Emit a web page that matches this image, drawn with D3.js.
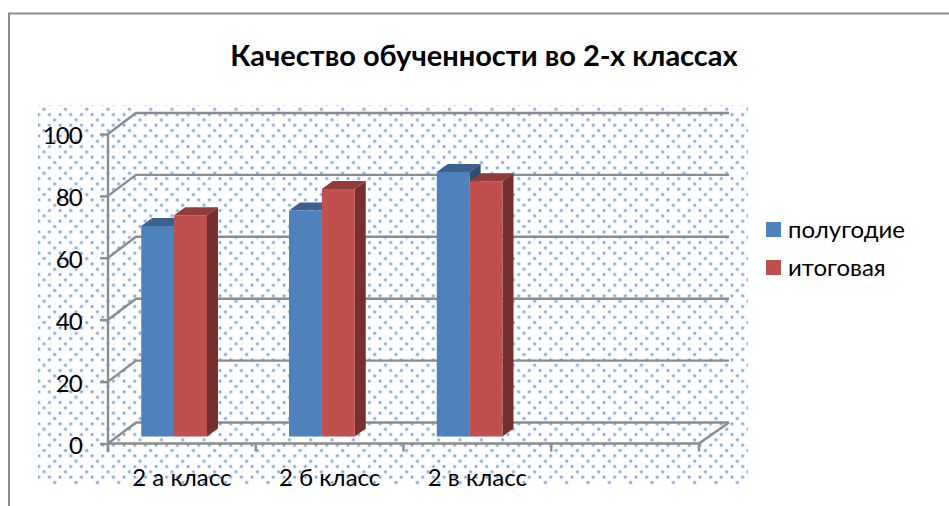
<!DOCTYPE html>
<html>
<head>
<meta charset="utf-8">
<script src="https://cdn.jsdelivr.net/npm/d3@7"></script>
<style>
body { margin: 0; background: #fff; }
text { font-family: Lato, "Noto Sans", sans-serif; fill: #000; }
</style>
</head>
<body>
<script>
const title = "Качество обученности во 2-х классах";
const categories = ["2 а класс", "2 б класс", "2 в класс", ""];
const seriesNames = ["полугодие", "итоговая"];
const halfYear = [68, 73, 85.5, null];
const finalGrade = [71.5, 80, 82.5, null];
const yTicks = [0, 20, 40, 60, 80, 100];

const width = 949, height = 506;
const plotLeft = 108, plotRight = 699, plotBottom = 443.5, plotTop = 134;
const depthX = 28, depthY = 21;

const svg = d3.select("body").append("svg")
	.attr("width", width)
	.attr("height", height)
	.style("display", "block");

let defs = svg.append("defs");
let pattern = defs.append("pattern")
	.attr("id", "dots")
	.attr("patternUnits", "userSpaceOnUse")
	.attr("x", 707.67).attr("y", 122.33)
	.attr("width", 21.33).attr("height", 21.33);
[[3, 3], [13.67, 3], [19, 8.33], [3, 13.67], [13.67, 13.67], [8.33, 19]].forEach(p => {
	pattern.append("circle").attr("cx", p[0]).attr("cy", p[1]).attr("r", 2.3).attr("fill", "#dfe9f6");
	pattern.append("circle").attr("cx", p[0]).attr("cy", p[1]).attr("r", 1.2).attr("fill", "#6f9bd2");
});

// outer chart border, cut by the window on the right and the bottom
svg.append("path")
	.attr("d", `M9,${height}V13.5H${width}`)
	.attr("fill", "none")
	.attr("stroke", "#8c8c8c")
	.attr("stroke-width", 2);

svg.append("rect")
	.attr("x", 38).attr("y", 105)
	.attr("width", 710).attr("height", 380)
	.attr("fill", "url(#dots)");

let x = d3.scaleBand().domain(categories).range([plotLeft, plotRight]);
let x1 = d3.scaleBand().domain(seriesNames).range([x.bandwidth() * 0.225, x.bandwidth() * 0.67]);
let y = d3.scaleLinear().domain([0, 100]).range([plotBottom, plotTop]);

let grid = svg.append("g")
	.attr("fill", "none")
	.attr("stroke", "#8c8c8c")
	.attr("stroke-width", 2.4);

// back wall lines and the slanted part that runs to the front plane
grid.selectAll(".grid")
	.data(yTicks)
	.enter().append("path")
	.attr("class", "grid")
	.attr("d", d => `M${plotLeft},${y(d)}L${plotLeft + depthX},${y(d) - depthY}H${plotRight + depthX + 2}`);

// floor front edge with its ticks
grid.append("path")
	.attr("d", `M${plotLeft},${plotBottom}H${plotRight}L${plotRight + depthX + 2},${plotBottom - depthY}`);
grid.selectAll(".xtick")
	.data(x.domain().map(c => x(c)).concat([plotRight]))
	.enter().append("line")
	.attr("class", "xtick")
	.attr("x1", d => d).attr("x2", d => d)
	.attr("y1", plotBottom).attr("y2", plotBottom + 8);

let yAxis = d3.axisLeft(y).tickValues(yTicks).tickSize(8).tickPadding(18);
let yG = svg.append("g")
	.attr("transform", `translate(${plotLeft},0)`)
	.call(yAxis);
yG.selectAll("path, line").attr("stroke", "#8c8c8c").attr("stroke-width", 2.4);
yG.select(".domain").attr("d", `M0,${plotTop}V${plotBottom + 8}`);
yG.selectAll("text")
	.attr("font-size", 24)
	.attr("y", 2)
	.attr("letter-spacing", -0.8)
	.style("font-family", "Lato, 'Noto Sans', sans-serif");

const colors = { "полугодие": ["#4f81bd", "#3c618e", "#2f4d71"], "итоговая": ["#c0504d", "#903c3a", "#772f2d"] };

// bars stand a third of the way into the floor
const floorDy = depthY / 3;
const barDx = 11, barDy = 8;
let rows = [];
seriesNames.forEach((s, i) => {
	let vals = i == 0 ? halfYear : finalGrade;
	categories.forEach((c, j) => {
		if (vals[j] != null) rows.push({ s: s, c: c, v: vals[j] });
	});
});

let bar = svg.selectAll(".bar")
	.data(rows)
	.enter().append("g")
	.attr("class", "bar");

bar.append("path")
	.attr("fill", d => colors[d.s][2])
	.attr("d", d => {
		let x2 = x(d.c) + x1(d.s) + x1.bandwidth();
		let yt = y(d.v) - floorDy, yb = y(0) - floorDy;
		return `M${x2},${yt}l${barDx},${-barDy}V${yb - barDy}L${x2},${yb}Z`;
	});
bar.append("path")
	.attr("fill", d => colors[d.s][1])
	.attr("d", d => {
		let x0 = x(d.c) + x1(d.s);
		let yt = y(d.v) - floorDy;
		return `M${x0},${yt}l${barDx},${-barDy}h${x1.bandwidth()}l${-barDx},${barDy}Z`;
	});
bar.append("rect")
	.attr("x", d => x(d.c) + x1(d.s))
	.attr("y", d => y(d.v) - floorDy)
	.attr("width", x1.bandwidth())
	.attr("height", d => y(0) - y(d.v))
	.attr("fill", d => colors[d.s][0]);

svg.append("text")
	.attr("x", 484).attr("y", 66)
	.attr("text-anchor", "middle")
	.attr("font-size", 29)
	.attr("font-weight", 700)
	.text(title);

svg.selectAll(".cat")
	.data(categories)
	.enter().append("text")
	.attr("class", "cat")
	.attr("x", d => x(d) + x.bandwidth() / 2)
	.attr("y", 486)
	.attr("text-anchor", "middle")
	.attr("font-size", 24)
	.text(d => d);

let legend = svg.selectAll(".legend")
	.data(seriesNames)
	.enter().append("g")
	.attr("class", "legend")
	.attr("transform", (d, i) => `translate(766,${222 + i * 38})`);
legend.append("rect")
	.attr("width", 15).attr("height", 15)
	.attr("fill", d => colors[d][0]);
legend.append("text")
	.attr("x", 22).attr("y", 16)
	.attr("font-size", 24)
	.text(d => d);
</script>
</body>
</html>
